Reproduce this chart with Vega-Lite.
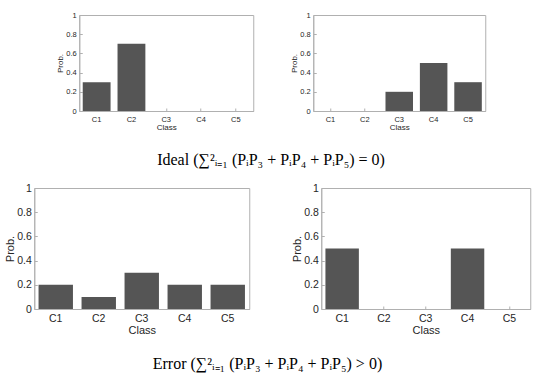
{
  "$schema": "https://vega.github.io/schema/vega-lite/v6.json",
  "padding": {"left": 4, "top": 10, "right": 5, "bottom": 5},
  "background": "white",
  "config": {
    "font": "Liberation Sans",
    "view": {"stroke": "#b0b0b0", "strokeWidth": 1},
    "axis": {
      "labelColor": "#262626",
      "titleColor": "#262626",
      "domainColor": "#b0b0b0",
      "tickColor": "#b0b0b0",
      "grid": false,
      "labelFont": "Liberation Sans",
      "titleFont": "Liberation Sans",
      "titleFontWeight": "normal"
    }
  },
  "datasets": {
    "ideal1": [
      {"cls": "C1", "p": 0.3}, {"cls": "C2", "p": 0.7}, {"cls": "C3", "p": 0},
      {"cls": "C4", "p": 0}, {"cls": "C5", "p": 0}
    ],
    "ideal2": [
      {"cls": "C1", "p": 0}, {"cls": "C2", "p": 0}, {"cls": "C3", "p": 0.2},
      {"cls": "C4", "p": 0.5}, {"cls": "C5", "p": 0.3}
    ],
    "error1": [
      {"cls": "C1", "p": 0.2}, {"cls": "C2", "p": 0.1}, {"cls": "C3", "p": 0.3},
      {"cls": "C4", "p": 0.2}, {"cls": "C5", "p": 0.2}
    ],
    "error2": [
      {"cls": "C1", "p": 0.5}, {"cls": "C2", "p": 0}, {"cls": "C3", "p": 0},
      {"cls": "C4", "p": 0.5}, {"cls": "C5", "p": 0}
    ]
  },
  "vconcat": [
    {
      "title": {"text": "Ideal (∑²ᵢ₌₁ (PᵢP₃ + PᵢP₄ + PᵢP₅) = 0)", "orient": "bottom", "anchor": "middle", "font": "Liberation Serif", "fontSize": 16, "fontWeight": "normal", "color": "#000000", "offset": 20},
      "spacing": 36,
      "hconcat": [
        {
          "width": 174, "height": 96,
          "data": {"name": "ideal1"},
          "mark": {"type": "bar", "color": "#555555"},
          "encoding": {
            "x": {"field": "cls", "type": "nominal", "title": "Class", "sort": null,
                  "scale": {"paddingInner": 0.2, "paddingOuter": 0.1},
                  "axis": {"labelAngle": 0, "labelFontSize": 7.5, "titleFontSize": 8, "tickSize": -3, "labelPadding": 7, "titlePadding": 1}},
            "y": {"field": "p", "type": "quantitative", "title": "Prob.",
                  "scale": {"domain": [0, 1]},
                  "axis": {"values": [0, 0.2, 0.4, 0.6, 0.8, 1], "format": "~g", "labelFontSize": 7.5, "titleFontSize": 8, "tickSize": -3, "labelPadding": 6, "titlePadding": 1}}
          }
        },
        {
          "width": 172, "height": 96,
          "data": {"name": "ideal2"},
          "mark": {"type": "bar", "color": "#555555"},
          "encoding": {
            "x": {"field": "cls", "type": "nominal", "title": "Class", "sort": null,
                  "scale": {"paddingInner": 0.2, "paddingOuter": 0.1},
                  "axis": {"labelAngle": 0, "labelFontSize": 7.5, "titleFontSize": 8, "tickSize": -3, "labelPadding": 7, "titlePadding": 1}},
            "y": {"field": "p", "type": "quantitative", "title": "Prob.",
                  "scale": {"domain": [0, 1]},
                  "axis": {"values": [0, 0.2, 0.4, 0.6, 0.8, 1], "format": "~g", "labelFontSize": 7.5, "titleFontSize": 8, "tickSize": -3, "labelPadding": 6, "titlePadding": 1}}
          }
        }
      ]
    },
    {
      "title": {"text": "Error (∑²ᵢ₌₁ (PᵢP₃ + PᵢP₄ + PᵢP₅) > 0)", "orient": "bottom", "anchor": "middle", "font": "Liberation Serif", "fontSize": 16, "fontWeight": "normal", "color": "#000000", "offset": 20},
      "spacing": 40,
      "hconcat": [
        {
          "width": 215, "height": 121,
          "data": {"name": "error1"},
          "mark": {"type": "bar", "color": "#555555"},
          "encoding": {
            "x": {"field": "cls", "type": "nominal", "title": "Class", "sort": null,
                  "scale": {"paddingInner": 0.2, "paddingOuter": 0.1},
                  "axis": {"labelAngle": 0, "labelFontSize": 10.5, "titleFontSize": 11, "tickSize": -3, "labelPadding": 7, "titlePadding": 1}},
            "y": {"field": "p", "type": "quantitative", "title": "Prob.",
                  "scale": {"domain": [0, 1]},
                  "axis": {"values": [0, 0.2, 0.4, 0.6, 0.8, 1], "format": "~g", "labelFontSize": 10.5, "titleFontSize": 11, "tickSize": -3, "labelPadding": 6, "titlePadding": 1}}
          }
        },
        {
          "width": 209, "height": 121,
          "data": {"name": "error2"},
          "mark": {"type": "bar", "color": "#555555"},
          "encoding": {
            "x": {"field": "cls", "type": "nominal", "title": "Class", "sort": null,
                  "scale": {"paddingInner": 0.2, "paddingOuter": 0.1},
                  "axis": {"labelAngle": 0, "labelFontSize": 10.5, "titleFontSize": 11, "tickSize": -3, "labelPadding": 7, "titlePadding": 1}},
            "y": {"field": "p", "type": "quantitative", "title": "Prob.",
                  "scale": {"domain": [0, 1]},
                  "axis": {"values": [0, 0.2, 0.4, 0.6, 0.8, 1], "format": "~g", "labelFontSize": 10.5, "titleFontSize": 11, "tickSize": -3, "labelPadding": 6, "titlePadding": 1}}
          }
        }
      ]
    }
  ],
  "center": true,
  "spacing": 14
}
